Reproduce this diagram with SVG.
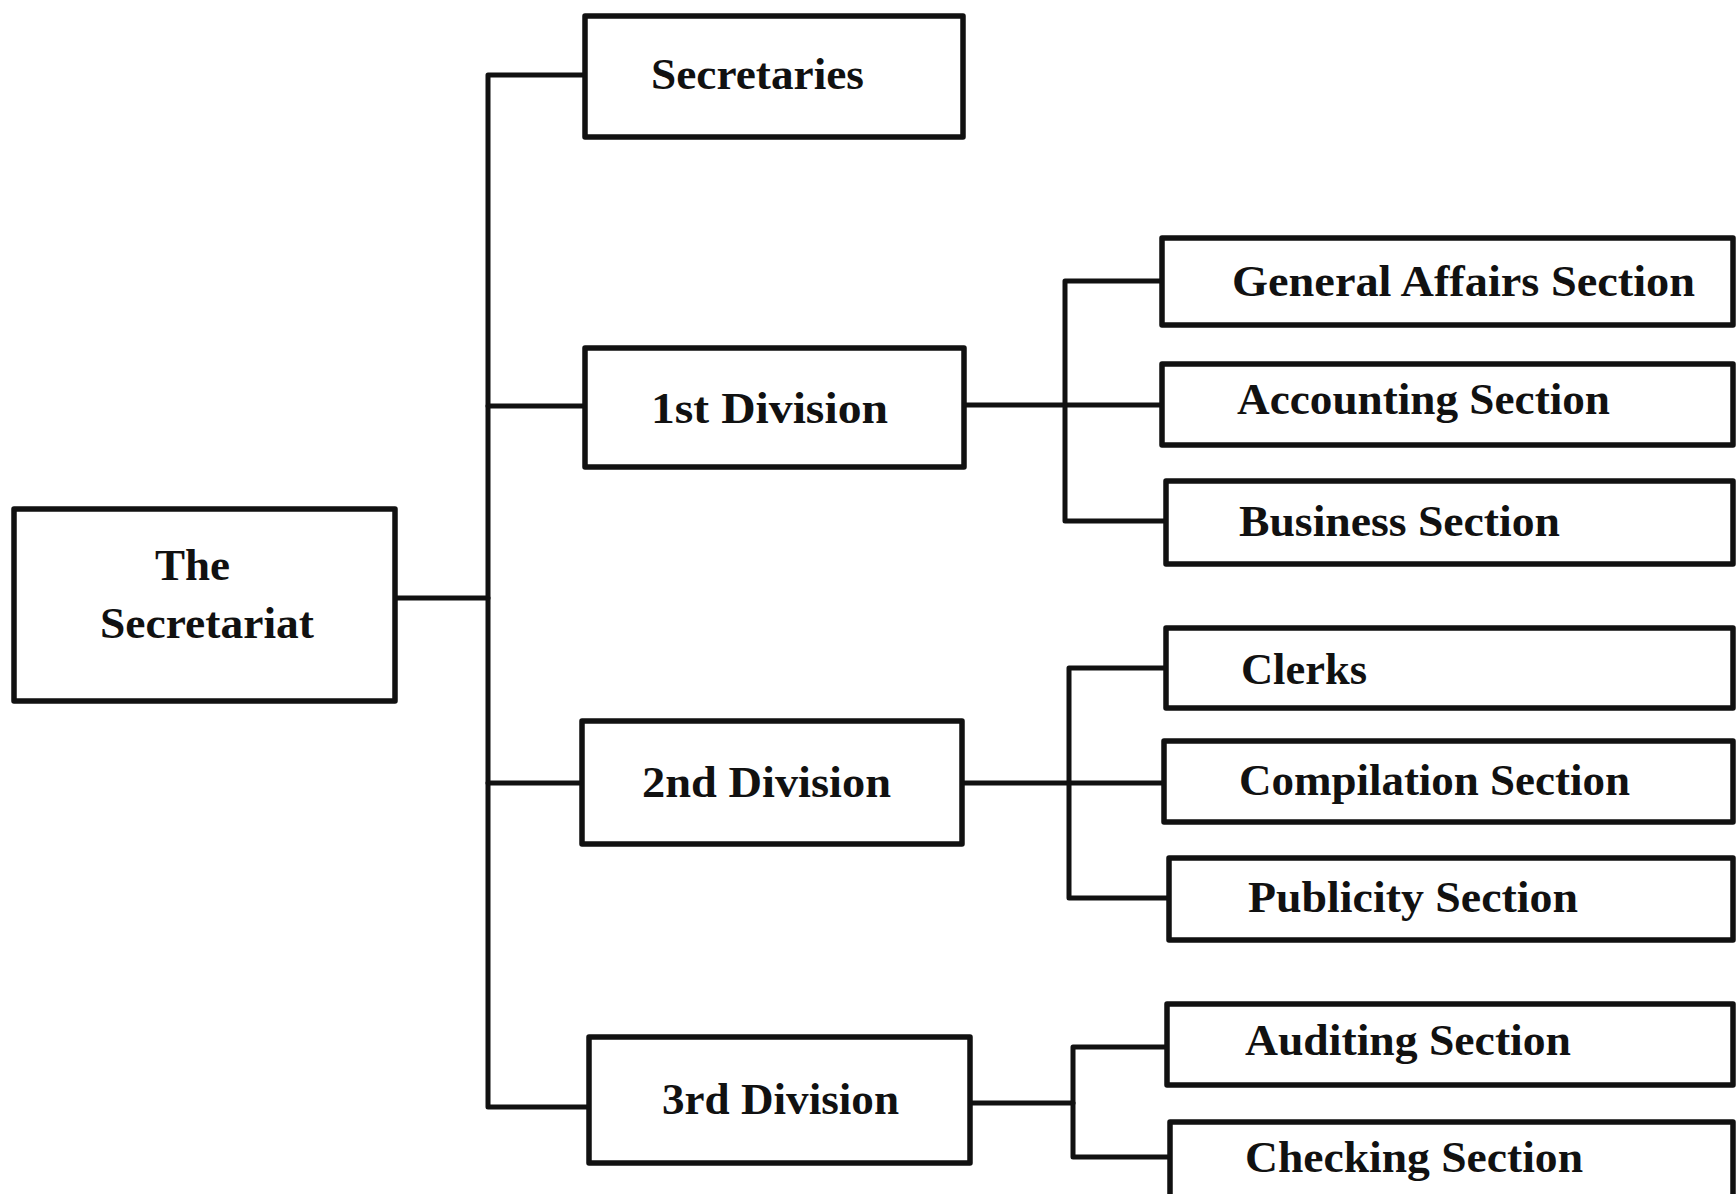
<svg xmlns="http://www.w3.org/2000/svg" width="1736" height="1194" viewBox="0 0 1736 1194">
<style>
.box{fill:#fff;stroke:#111;stroke-width:5.5;stroke-linejoin:round}
.ln{fill:none;stroke:#111;stroke-width:5;stroke-linejoin:round;stroke-linecap:round}
.t{font-family:"Liberation Serif","Times New Roman",serif;font-weight:bold;font-size:44px;fill:#111}
</style>
<rect width="1736" height="1194" fill="#fff"/>
<g id="connectors">
<path class="ln" d="M395,598 H488"/>
<path class="ln" d="M585,75 H488 V1107 H589"/>
<path class="ln" d="M488,406 H585"/>
<path class="ln" d="M488,783 H582"/>
<path class="ln" d="M964,405 H1162"/>
<path class="ln" d="M1162,281 H1065 V521 H1166"/>
<path class="ln" d="M962,783 H1164"/>
<path class="ln" d="M1166,668 H1069 V898 H1169"/>
<path class="ln" d="M970,1103 H1073"/>
<path class="ln" d="M1167,1047 H1073 V1157 H1170"/>
</g>
<g id="secretariat">
<rect class="box" x="14" y="509" width="381" height="192"/>
<text class="t" x="155" y="580" textLength="75" lengthAdjust="spacingAndGlyphs">The</text>
<text class="t" x="100" y="638" textLength="214" lengthAdjust="spacingAndGlyphs">Secretariat</text>
</g>
<g id="secretaries">
<rect class="box" x="585" y="16" width="378" height="121"/>
<text class="t" x="651" y="89" textLength="213" lengthAdjust="spacingAndGlyphs">Secretaries</text>
</g>
<g id="div1">
<rect class="box" x="585" y="348" width="379" height="119"/>
<text class="t" x="651" y="423" textLength="237" lengthAdjust="spacingAndGlyphs">1st Division</text>
</g>
<g id="div2">
<rect class="box" x="582" y="721" width="380" height="123"/>
<text class="t" x="642" y="797" textLength="249" lengthAdjust="spacingAndGlyphs">2nd Division</text>
</g>
<g id="div3">
<rect class="box" x="589" y="1037" width="381" height="126"/>
<text class="t" x="662" y="1114" textLength="237" lengthAdjust="spacingAndGlyphs">3rd Division</text>
</g>
<g id="general-affairs">
<rect class="box" x="1162" y="238" width="571" height="87"/>
<text class="t" x="1232" y="296" textLength="463" lengthAdjust="spacingAndGlyphs">General Affairs Section</text>
</g>
<g id="accounting">
<rect class="box" x="1162" y="364" width="571" height="81"/>
<text class="t" x="1237" y="414" textLength="373" lengthAdjust="spacingAndGlyphs">Accounting Section</text>
</g>
<g id="business">
<rect class="box" x="1166" y="481" width="567" height="83"/>
<text class="t" x="1239" y="536" textLength="321" lengthAdjust="spacingAndGlyphs">Business Section</text>
</g>
<g id="clerks">
<rect class="box" x="1166" y="628" width="567" height="80"/>
<text class="t" x="1241" y="684" textLength="126" lengthAdjust="spacingAndGlyphs">Clerks</text>
</g>
<g id="compilation">
<rect class="box" x="1164" y="741" width="569" height="81"/>
<text class="t" x="1239" y="795" textLength="391" lengthAdjust="spacingAndGlyphs">Compilation Section</text>
</g>
<g id="publicity">
<rect class="box" x="1169" y="858" width="564" height="82"/>
<text class="t" x="1248" y="912" textLength="330" lengthAdjust="spacingAndGlyphs">Publicity Section</text>
</g>
<g id="auditing">
<rect class="box" x="1167" y="1004" width="566" height="81"/>
<text class="t" x="1245" y="1055" textLength="326" lengthAdjust="spacingAndGlyphs">Auditing Section</text>
</g>
<g id="checking">
<rect class="box" x="1170" y="1122" width="563" height="90"/>
<text class="t" x="1245" y="1172" textLength="338" lengthAdjust="spacingAndGlyphs">Checking Section</text>
</g>
</svg>
